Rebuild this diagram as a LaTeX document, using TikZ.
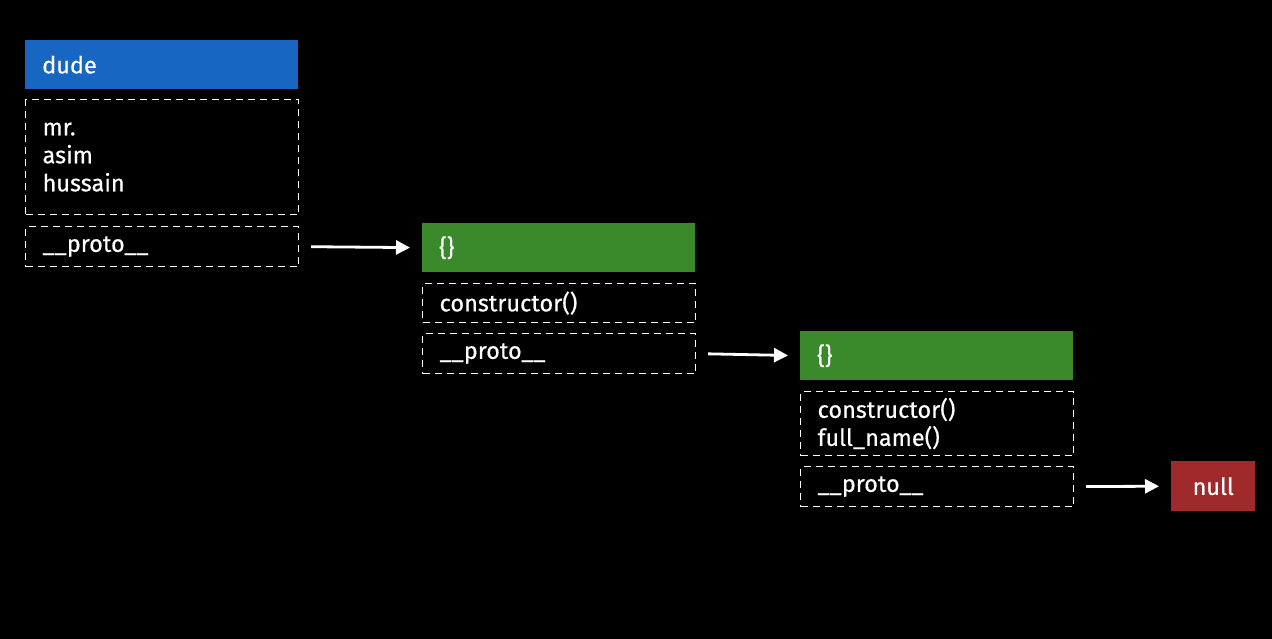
\documentclass[tikz,border=0pt]{standalone}
\usepackage{fontspec}
\setmainfont{Fira Sans}[FakeBold=0.5]
\usetikzlibrary{arrows.meta}
\definecolor{hdrblue}{HTML}{1766C2}
\definecolor{hdrgreen}{HTML}{3A8A2B}
\definecolor{nullred}{HTML}{A02A2B}
\begin{document}
\begin{tikzpicture}[x=1pt,y=-1pt,
  every node/.style={font=\fontsize{23.5}{28}\selectfont, text=white},
  hdr/.style={anchor=north west, minimum width=273pt, minimum height=49pt, inner xsep=17pt, inner ysep=0pt, text width=239pt, align=left},
  slot/.style={anchor=north west, draw=white, line width=1.2pt, dash pattern=on 7pt off 5pt, minimum width=273pt, inner xsep=17pt, inner ysep=0pt, text width=239pt, align=left},
  link/.style={draw=white, line width=2.8pt, -{Triangle[length=14pt,width=14pt]}, shorten <=12pt, shorten >=12pt}
]
\fill[black] (0,0) rectangle (1272,639);
\useasboundingbox (0,0) rectangle (1272,639);

% dude object
\node[hdr, fill=hdrblue] (dude) at (25,40) {dude};
\node[slot, minimum height=115pt] (dudebody) at (25,99) {mr.\\asim\\hussain};
\node[slot, minimum height=40pt] (p1) at (25,226) {\_\_proto\_\_};

% first prototype
\node[hdr, fill=hdrgreen] (g1) at (422,223) {\{\}};
\node[slot, minimum height=39pt] (g1body) at (422,283) {constructor()};
\node[slot, minimum height=40pt] (p2) at (422,333) {\_\_proto\_\_};

% second prototype
\node[hdr, fill=hdrgreen] (g2) at (800,331) {\{\}};
\node[slot, minimum height=64pt] (g2body) at (800,391) {constructor()\\full\_name()};
\node[slot, minimum height=40pt] (p3) at (800,466) {\_\_proto\_\_};

% null
\node[anchor=north west, fill=nullred, minimum width=84pt, minimum height=50pt, inner sep=0pt] (null) at (1171,461) {null};

\draw[link] (p1.east) -- (g1.west);
\draw[link] (p2.east) -- (g2.west);
\draw[link] (p3.east) -- (null.west);
\end{tikzpicture}
\end{document}
